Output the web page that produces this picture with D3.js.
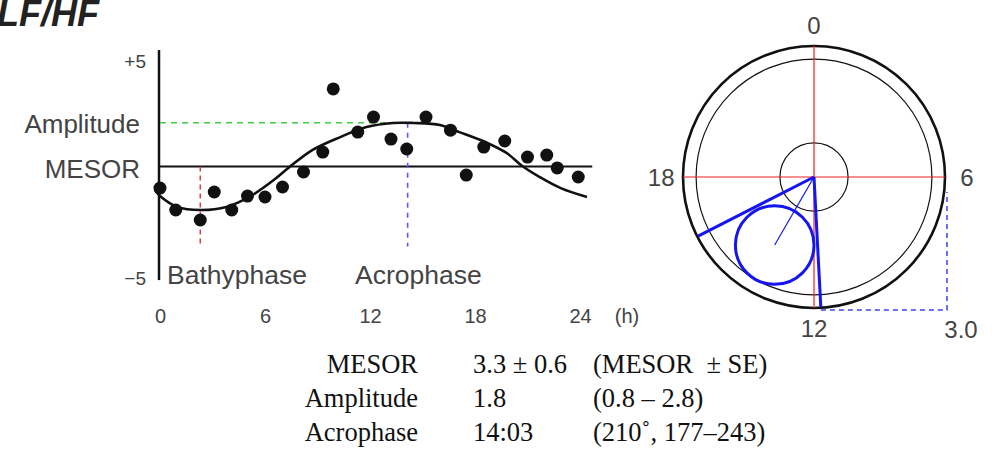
<!DOCTYPE html>
<html>
<head>
<meta charset="utf-8">
<script src="https://cdn.jsdelivr.net/npm/d3@7"></script>
<style>
  body { margin: 0; background: #fff; }
  text { font-family: "Liberation Sans", Arial, sans-serif; }
  .serif { font-family: "Liberation Serif", "Times New Roman", serif; }
</style>
</head>
<body>
<div id="chart"></div>
<script>
// Observed LF/HF values (hour of day, deviation)
var hours = [0, 0.9, 2.3, 3.1, 4.1, 5.0, 6.0, 7.0, 8.2, 9.3, 9.9, 11.3,
  12.2, 13.2, 14.1, 15.2, 16.6, 17.5, 18.5, 19.7, 21.0, 22.1, 22.7, 23.9];
var values = [-0.81, -1.82, -2.28, -0.99, -1.82, -1.18, -1.22, -0.76, -0.07, 0.85, 3.76, 1.77,
  2.46, 1.45, 0.99, 2.46, 1.86, -0.21, 1.08, 1.36, 0.62, 0.71, 0.12, -0.30];

// fitted cosine curve
var fitHours = [-0.3, 0, 1.0, 2.3, 3.8, 5.1, 6.5, 7.4, 8.7, 10.3, 11.8, 13.3,
  14.5, 16.0, 17.1, 18.7, 19.8, 20.7, 21.7, 22.9, 24.4];
var fitValues = [-0.9, -1.17, -1.68, -1.82, -1.68, -1.22, -0.44, 0.16, 0.94, 1.54, 2.0, 2.19,
  2.19, 2.1, 1.77, 1.27, 0.81, 0.21, -0.3, -0.81, -1.22];

var xTicks = [0, 6, 12, 18, 24];
var yTicks = [5, -5];
var yTickLabels = ["+5", "\u22125"];

var mesorLevel = 0.18;
var amplitudeLevel = 2.2;
var bathyphaseHour = 2.3;
var acrophaseHour = 14.15;

// polar (cosinor) plot
var clockHours = [0, 6, 12, 18];
var rings = [3.0, 2.7, 0.78];
var amplitude = 1.8;
var acrophaseDeg = 210;
var ciDeg = [177, 243];
var ciRadius = 0.9;
var scaleLength = 3.0;

// summary table
var rowNames = ["MESOR", "Amplitude", "Acrophase"];
var rowValues = ["3.3 \u00b1 0.6", "1.8", "14:03"];
var rowNotes = ["(MESOR  \u00b1 SE)", "(0.8 \u2013 2.8)", "(210\u02da, 177\u2013243)"];

var svgWidth = 992;
var svgHeight = 452;

var svg = d3.select("#chart")
  .append("svg")
  .attr("width", svgWidth)
  .attr("height", svgHeight);

var labelColor = "#444";

// title (top is cropped in the original too)
svg.append("text")
  .attr("x", -3)
  .attr("y", 26)
  .attr("font-size", 36)
  .attr("font-weight", "bold")
  .attr("font-style", "italic")
  .attr("fill", "#222")
  .text("LF/HF");

// ---------- left: time series ----------
var xScale = d3.scaleLinear()
  .domain([0, 24])
  .range([160, 580]);

var yScale = d3.scaleLinear()
  .domain([-5, 5])
  .range([279, 62]);

// x tick labels only
var bottomAxis = d3.axisBottom(xScale)
  .tickValues(xTicks)
  .tickSize(0)
  .tickPadding(0);

var xAxis = svg.append("g")
  .attr("transform", "translate(0, 309)")
  .call(bottomAxis);
xAxis.select(".domain").remove();
xAxis.selectAll("text")
  .attr("font-size", 20)
  .attr("font-family", "Liberation Sans, Arial, sans-serif")
  .attr("fill", labelColor);

svg.append("text")
  .attr("x", xScale(24) + 47)
  .attr("y", 323)
  .attr("text-anchor", "middle")
  .attr("font-size", 20)
  .attr("fill", labelColor)
  .text("(h)");

// y axis line and its two labels
svg.append("line")
  .attr("x1", xScale(0) - 1)
  .attr("x2", xScale(0) - 1)
  .attr("y1", yScale(5.55))
  .attr("y2", yScale(-5.05))
  .attr("stroke", "#111")
  .attr("stroke-width", 2.5);

svg.selectAll(".ytick")
  .data(yTicks)
  .enter()
  .append("text")
  .attr("class", "ytick")
  .attr("x", 146)
  .attr("y", d => yScale(d) + 6)
  .attr("text-anchor", "end")
  .attr("font-size", 19)
  .attr("fill", labelColor)
  .text((d, i) => yTickLabels[i]);

// MESOR line
svg.append("line")
  .attr("x1", xScale(-0.05))
  .attr("x2", xScale(24.7))
  .attr("y1", yScale(mesorLevel))
  .attr("y2", yScale(mesorLevel))
  .attr("stroke", "#111")
  .attr("stroke-width", 2);

// amplitude level
svg.append("line")
  .attr("x1", xScale(0))
  .attr("x2", xScale(13.5))
  .attr("y1", yScale(amplitudeLevel))
  .attr("y2", yScale(amplitudeLevel))
  .attr("stroke", "#3ecf3e")
  .attr("stroke-width", 1.6)
  .attr("stroke-dasharray", "6,5");

// bathyphase / acrophase markers
svg.append("line")
  .attr("x1", xScale(bathyphaseHour))
  .attr("x2", xScale(bathyphaseHour))
  .attr("y1", yScale(mesorLevel))
  .attr("y2", yScale(-3.5))
  .attr("stroke", "#e03040")
  .attr("stroke-width", 1.4)
  .attr("stroke-dasharray", "5,4");

svg.append("line")
  .attr("x1", xScale(acrophaseHour))
  .attr("x2", xScale(acrophaseHour))
  .attr("y1", yScale(amplitudeLevel))
  .attr("y2", yScale(-3.5))
  .attr("stroke", "#5a5af0")
  .attr("stroke-width", 1.6)
  .attr("stroke-dasharray", "5,5");

var fitData = fitHours.map((h, i) => ({ h: h, v: fitValues[i] }));

var drawLine = d3.line()
  .x(d => xScale(d.h))
  .y(d => yScale(d.v))
  .curve(d3.curveCatmullRom);

svg.append("path")
  .datum(fitData)
  .attr("d", drawLine)
  .attr("fill", "none")
  .attr("stroke", "#111")
  .attr("stroke-width", 2.6);

var pointData = hours.map((h, i) => ({ h: h, v: values[i] }));

svg.selectAll(".dot")
  .data(pointData)
  .enter()
  .append("circle")
  .attr("class", "dot")
  .attr("cx", d => xScale(d.h))
  .attr("cy", d => yScale(d.v))
  .attr("r", 6.5)
  .attr("fill", "#111");

// side labels
svg.append("text")
  .attr("x", 140)
  .attr("y", yScale(amplitudeLevel) + 10)
  .attr("text-anchor", "end")
  .attr("font-size", 26)
  .attr("fill", labelColor)
  .text("Amplitude");

svg.append("text")
  .attr("x", 140)
  .attr("y", yScale(mesorLevel) + 11)
  .attr("text-anchor", "end")
  .attr("font-size", 26)
  .attr("fill", labelColor)
  .text("MESOR");

svg.append("text")
  .attr("x", 167)
  .attr("y", 284)
  .attr("font-size", 26.5)
  .attr("fill", labelColor)
  .text("Bathyphase");

svg.append("text")
  .attr("x", 355)
  .attr("y", 284)
  .attr("font-size", 26.5)
  .attr("fill", labelColor)
  .text("Acrophase");

// ---------- right: polar plot ----------
var cx = 814;
var cy = 177;

var rScale = d3.scaleLinear()
  .domain([0, 3])
  .range([0, 131]);

var polar = svg.append("g")
  .attr("transform", `translate(${cx}, ${cy})`);

// angle (degrees clockwise from top) and radius to x/y
function px(deg, r) { return rScale(r) * Math.sin(deg * Math.PI / 180); }
function py(deg, r) { return -rScale(r) * Math.cos(deg * Math.PI / 180); }

polar.selectAll(".ring")
  .data(rings)
  .enter()
  .append("circle")
  .attr("class", "ring")
  .attr("r", d => rScale(d))
  .attr("fill", "none")
  .attr("stroke", "#111")
  .attr("stroke-width", (d, i) => i === 0 ? 2.6 : 1.2);

// red cross
polar.append("line")
  .attr("x1", -rScale(3)).attr("x2", rScale(3))
  .attr("y1", 0).attr("y2", 0)
  .attr("stroke", "#ee2020").attr("stroke-width", 1.2);
polar.append("line")
  .attr("x1", 0).attr("x2", 0)
  .attr("y1", -rScale(3)).attr("y2", rScale(3))
  .attr("stroke", "#ee2020").attr("stroke-width", 1.2);

// clock labels
polar.selectAll(".clock")
  .data(clockHours)
  .enter()
  .append("text")
  .attr("class", "clock")
  .attr("x", d => px(d * 15, 3.5))
  .attr("y", d => py(d * 15, 3.47))
  .attr("dy", "0.36em")
  .attr("text-anchor", "middle")
  .attr("font-size", 24)
  .attr("fill", labelColor)
  .text(d => d);

// confidence region
polar.selectAll(".ci")
  .data(ciDeg)
  .enter()
  .append("line")
  .attr("class", "ci")
  .attr("x1", 0).attr("y1", 0)
  .attr("x2", d => px(d, 2.98))
  .attr("y2", d => py(d, 2.98))
  .attr("stroke", "#1515f0")
  .attr("stroke-width", 3);

polar.append("line")
  .attr("x1", 0).attr("y1", 0)
  .attr("x2", px(acrophaseDeg, amplitude))
  .attr("y2", py(acrophaseDeg, amplitude))
  .attr("stroke", "#1515f0")
  .attr("stroke-width", 1.2);

polar.append("circle")
  .attr("cx", px(acrophaseDeg, amplitude))
  .attr("cy", py(acrophaseDeg, amplitude))
  .attr("r", rScale(ciRadius))
  .attr("fill", "none")
  .attr("stroke", "#1515f0")
  .attr("stroke-width", 3);

// scale bar
var edge = rScale(scaleLength) + 2;
polar.append("path")
  .attr("d", `M${px(ciDeg[0], 3.02)},${edge} H${edge} V15`)
  .attr("fill", "none")
  .attr("stroke", "#4040f0")
  .attr("stroke-width", 1.5)
  .attr("stroke-dasharray", "5,4");

polar.append("text")
  .attr("x", edge + 14)
  .attr("y", py(180, 3.5))
  .attr("dy", "0.36em")
  .attr("text-anchor", "middle")
  .attr("font-size", 24)
  .attr("fill", labelColor)
  .text(scaleLength.toFixed(1));

// ---------- summary table ----------
var rowY = d3.scalePoint()
  .domain(rowNames)
  .range([373, 441]);

var table = svg.append("g")
  .attr("font-size", 26.5)
  .attr("fill", "#111");

table.selectAll(".rname")
  .data(rowNames)
  .enter()
  .append("text")
  .attr("class", "serif")
  .attr("x", 418)
  .attr("y", d => rowY(d))
  .attr("text-anchor", "end")
  .text(d => d);

table.selectAll(".rval")
  .data(rowValues)
  .enter()
  .append("text")
  .attr("class", "serif")
  .attr("x", 473)
  .attr("y", (d, i) => rowY(rowNames[i]))
  .text(d => d);

table.selectAll(".rnote")
  .data(rowNotes)
  .enter()
  .append("text")
  .attr("class", "serif")
  .attr("x", 593)
  .attr("y", (d, i) => rowY(rowNames[i]))
  .style("white-space", "pre")
  .text(d => d);
</script>
</body>
</html>
